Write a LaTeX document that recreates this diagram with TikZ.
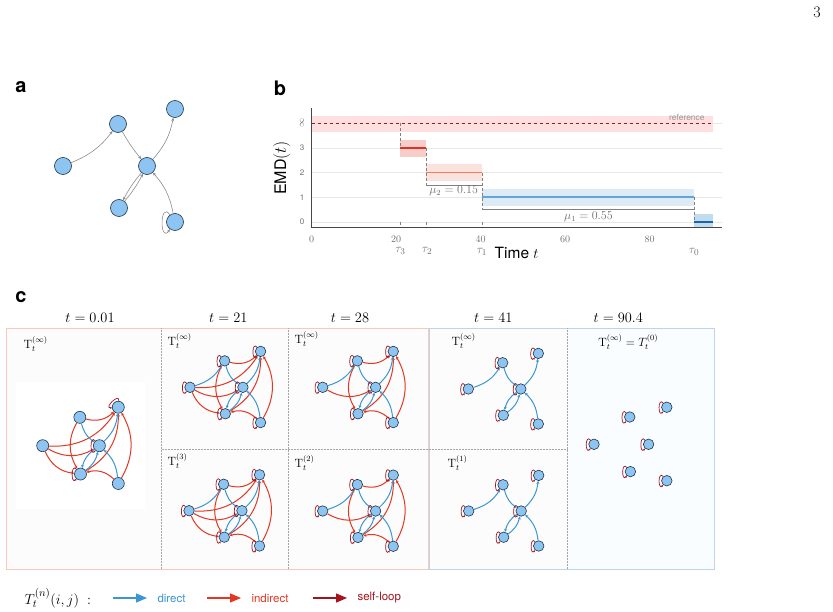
\documentclass[tikz,border=0pt]{standalone}
\usepackage{fontspec}
\setsansfont{TeX Gyre Heros}
\usetikzlibrary{arrows.meta}

\definecolor{nodefill}{RGB}{142,196,242}
\definecolor{nodeline}{RGB}{28,52,70}
\definecolor{directc}{RGB}{60,150,210}
\definecolor{indirectc}{RGB}{225,55,35}
\definecolor{loopc}{RGB}{165,20,30}
\definecolor{edgegray}{RGB}{140,140,140}
\definecolor{axisgray}{RGB}{70,70,70}
\definecolor{textgray}{RGB}{110,110,110}
\definecolor{refred}{RGB}{170,20,30}
\definecolor{lvlthree}{RGB}{222,50,40}
\definecolor{lvltwo}{RGB}{240,125,95}
\definecolor{lvlone}{RGB}{100,165,215}
\definecolor{lvlzero}{RGB}{30,100,170}
\definecolor{framered}{RGB}{248,200,190}
\definecolor{frameblue}{RGB}{195,210,235}

\tikzset{
  vertex/.style={circle,draw=nodeline,fill=nodefill,line width=0.6pt,inner sep=0pt,minimum size=#1},
  plain/.style={draw=edgegray,line width=0.6pt,-{Stealth[length=3.5pt,width=3pt]},bend right=#1},
  direct/.style={draw=directc,line width=1pt,-{Stealth[length=3pt,width=3pt]},bend right=20},
  indirect/.style={draw=indirectc,line width=1pt,-{Stealth[length=3pt,width=3pt]},bend right=30},
  selfloop/.style={draw=loopc,line width=0.7pt,-{Stealth[length=2pt,width=2pt]},out=130,in=230,looseness=1,min distance=13pt},
  celltitle/.style={font=\fontsize{14}{16}\selectfont},
  celllabel/.style={anchor=west,font=\fontsize{12}{14}\selectfont},
  sep/.style={draw=gray!70,densely dotted,line width=0.5pt},
  panel/.style={font=\fontsize{20}{22}\selectfont\sffamily\bfseries},
  gridline/.style={draw=gray!18,line width=0.6pt},
  axisline/.style={draw=axisgray,line width=0.8pt},
  stepline/.style={draw=gray,densely dashed,line width=0.5pt},
  bracket/.style={draw=gray,line width=0.5pt},
  ticklabel/.style={text=textgray,font=\fontsize{10}{12}\selectfont},
  legarrow/.style={line width=1.3pt,-{Triangle[length=11pt,width=9pt]}},
  legtext/.style={anchor=west,font=\fontsize{11.5}{13}\selectfont\sffamily},
}

% same six vertices in every network, #2 = name prefix
\newcommand{\netnodes}[2]{%
  \node[vertex=#1] (#2n0) at (0,0) {};
  \node[vertex=#1] (#2n1) at (55,42) {};
  \node[vertex=#1] (#2n2) at (112,57) {};
  \node[vertex=#1] (#2hub) at (84,0) {};
  \node[vertex=#1] (#2n3) at (56,-42) {};
  \node[vertex=#1] (#2n4) at (112,-56) {};
}
\newcommand{\firststep}[1]{\path (#1n0) edge[direct] (#1n1);}
\newcommand{\directedges}[1]{%
  \path (#1n1) edge[direct] (#1hub);
  \path (#1hub) edge[direct] (#1n2);
  \path (#1hub) edge[direct] (#1n3);
  \path (#1n3) edge[direct] (#1hub);
  \path (#1n4) edge[direct] (#1hub);
}
\newcommand{\shortwalks}[1]{%
  \path (#1n0) edge[indirect] (#1hub);
  \path (#1n1) edge[indirect] (#1n2);
  \path (#1n1) edge[indirect] (#1n3);
  \path (#1n3) edge[indirect] (#1n2);
  \path (#1n4) edge[indirect] (#1n2);
  \path (#1n4) edge[indirect] (#1n3);
}
\newcommand{\longwalks}[1]{%
  \path (#1n0) edge[indirect] (#1n2);
  \path (#1n0) edge[indirect] (#1n3);
}
\newcommand{\allloops}[1]{%
  \foreach \v in {n0,n1,n2,hub,n3,n4} {\path (#1\v) edge[selfloop] (#1\v);}
}

\begin{document}
\begin{tikzpicture}[x=1pt,y=1pt]
\useasboundingbox (0,0) rectangle (833,-612);

\node[font=\fontsize{16}{18}\selectfont] (pagenum) at (817,-12) {3};

% ---- a
\node[panel] (la) at (21,-87) {a};
\begin{scope}[shift={(63,-166)}]
    \netnodes{17pt}{a}
    \path (an0) edge[plain=15] (an1);
    \path (an1) edge[plain=5] (ahub);
    \path (ahub) edge[plain=15] (an2);
    \path (ahub) edge[plain=6] (an3);
    \path (an3) edge[plain=6] (ahub);
    \path (an4) edge[plain=15] (ahub);
    \path (an4) edge[draw=edgegray,line width=0.6pt,-{Stealth[length=3.5pt,width=3pt]},
                     out=125,in=235,min distance=18pt] (an4);
\end{scope}

% ---- b
\node[panel] (lb) at (280,-88) {b};
\begin{scope}[shift={(311.7,-222)},x=4.225pt,y=24.7pt]
    \foreach \v in {0,...,4} \draw[gridline] (0,\v) -- (97,\v);
    \fill[red!12] (0,3.66) rectangle (95,4.3);
    \fill[lvlthree!25] (21,2.65) rectangle (27.1,3.32);
    \fill[lvltwo!22] (27.1,1.67) rectangle (40.3,2.35);
    \fill[lvlone!22] (40.3,0.65) rectangle (90.5,1.35);
    \fill[lvlone!40] (90.5,-0.23) rectangle (95,0.32);
    \draw[stepline] (21,4) -- (21,3);
    \draw[stepline] (27.1,3) -- (27.1,1.49);
    \draw[stepline] (40.3,2) -- (40.3,0.5);
    \draw[stepline] (90.5,1) -- (90.5,0);
    \foreach \x in {21,27.1,40.3} \draw[stepline] (\x,0) -- (\x,-0.23);
    \draw[bracket] (27.1,1.49) -- (40.3,1.49);
    \draw[bracket] (40.3,0.5) -- (90.5,0.5);
    \draw[refred,dashed,line width=1.1pt] (0,4) -- (95,4);
    \draw[lvlthree,line width=1.6pt] (21,3) -- (27.1,3);
    \draw[lvltwo,line width=1.6pt] (27.1,2) -- (40.3,2);
    \draw[lvlone,line width=1.6pt] (40.3,1) -- (90.5,1);
    \draw[lvlzero,line width=1.6pt] (90.5,0) -- (95,0);
    \draw[axisline] (0,4.62) -- (0,-0.23) -- (97,-0.23);

    \foreach \x in {0,20,40,60,80} \node[ticklabel] (xt\x) at (\x,-0.68) {\x};
    \foreach \v in {0,1,2,3} \node[text=textgray,font=\fontsize{8}{9}\selectfont\sffamily] (yt\v) at (-2.3,\v) {\v};
    \node[text=textgray,rotate=90,font=\fontsize{9}{10}\selectfont] (ytinf) at (-2.3,4) {$\infty$};
    \node[text=gray!80,font=\fontsize{8.5}{10}\selectfont\sffamily] (reflabel) at (88.8,4.22) {reference};
    \node[text=textgray,font=\fontsize{11.5}{13}\selectfont] (mutwo) at (33.6,1.27) {$\mu_2 = 0.15$};
    \node[text=textgray,font=\fontsize{11.5}{13}\selectfont] (muone) at (65.5,0.21) {$\mu_1 = 0.55$};
    \node[ticklabel,font=\fontsize{13}{15}\selectfont] (tauthree) at (21,-1.18) {$\tau_3$};
    \node[ticklabel,font=\fontsize{13}{15}\selectfont] (tautwo) at (27.3,-1.18) {$\tau_2$};
    \node[ticklabel,font=\fontsize{13}{15}\selectfont] (tauone) at (40.3,-1.2) {$\tau_1$};
    \node[ticklabel,font=\fontsize{13}{15}\selectfont] (tauzero) at (90.5,-1.2) {$\tau_0$};
    \node[font=\fontsize{15.5}{17}\selectfont\sffamily] (xlabel) at (48.5,-1.27) {Time $t$};
    \node[rotate=90,font=\fontsize{16}{18}\selectfont\sffamily] (ylabel) at (-7.1,2.19) {EMD$(t)$};
\end{scope}

% ---- c
\node[panel] (lc) at (21,-297) {c};
\fill[gray!2] (6.7,-328.3) rectangle (567.3,-569.3);
\fill[white] (16,-381.7) rectangle (145,-509.3);
\fill[cyan!2] (567.3,-328.3) rectangle (714,-569.3);
\draw[framered,line width=0.8pt] (6.7,-328.3) rectangle (428.2,-569.3);
\draw[frameblue,line width=0.8pt] (429.5,-328.3) rectangle (714,-569.3);
\draw[sep] (161.7,-328.3) -- (161.7,-569.3);
\draw[sep] (288.3,-328.3) -- (288.3,-569.3);
\draw[sep] (567.3,-328.3) -- (567.3,-569.3);
\draw[sep] (161.7,-449.3) -- (567.3,-449.3);

\node[celltitle] (hd1) at (90,-318) {$t=0.01$};
\node[celltitle] (hd2) at (228.3,-318) {$t=21$};
\node[celltitle] (hd3) at (350,-318) {$t=28$};
\node[celltitle] (hd4) at (493.3,-318) {$t=41$};
\node[celltitle] (hd5) at (618.3,-318) {$t=90.4$};

\node[celllabel] (lbA) at (20,-344) {$\mathrm{T}_t^{(\infty)}$};
\node[celllabel] (lbB) at (164,-341) {$\mathrm{T}_t^{(\infty)}$};
\node[celllabel] (lbC) at (164,-461) {$\mathrm{T}_t^{(3)}$};
\node[celllabel] (lbD) at (291,-339) {$\mathrm{T}_t^{(\infty)}$};
\node[celllabel] (lbE) at (291,-463) {$\mathrm{T}_t^{(2)}$};
\node[celllabel] (lbF) at (448,-341) {$\mathrm{T}_t^{(\infty)}$};
\node[celllabel] (lbG) at (444,-463) {$\mathrm{T}_t^{(1)}$};
\node[font=\fontsize{12}{14}\selectfont] (lbH) at (628.3,-342) {$\mathrm{T}_t^{(\infty)} = T_t^{(0)}$};

% t = 0.01
\begin{scope}[shift={(42.7,-445.7)},scale=0.675]
    \netnodes{12pt}{ca}
    \shortwalks{ca}
    \longwalks{ca}
    \directedges{ca}
    \path (can2) edge[selfloop,out=85,in=185] (can2);
    \path (cahub) edge[selfloop] (cahub);
    \path (can3) edge[selfloop] (can3);
\end{scope}

% t = 21
\begin{scope}[shift={(190,-387.3)},scale=0.63]
    \netnodes{10.5pt}{cb}
    \shortwalks{cb}
    \longwalks{cb}
    \firststep{cb}
    \directedges{cb}
    \allloops{cb}
\end{scope}
\begin{scope}[shift={(189,-510.7)},scale=0.63]
    \netnodes{10.5pt}{cc}
    \shortwalks{cc}
    \longwalks{cc}
    \firststep{cc}
    \directedges{cc}
    \allloops{cc}
\end{scope}

% t = 28
\begin{scope}[shift={(322.7,-387.3)},scale=0.63]
    \netnodes{10.5pt}{cd}
    \shortwalks{cd}
    \firststep{cd}
    \directedges{cd}
    \allloops{cd}
\end{scope}
\begin{scope}[shift={(322.7,-511)},scale=0.63]
    \netnodes{10.5pt}{ce}
    \shortwalks{ce}
    \firststep{ce}
    \directedges{ce}
    \allloops{ce}
\end{scope}

% t = 41
\begin{scope}[shift={(468.3,-389)},scale=0.625]
    \netnodes{10.5pt}{cf}
    \firststep{cf}
    \directedges{cf}
    \allloops{cf}
\end{scope}
\begin{scope}[shift={(468.7,-511)},scale=0.625]
    \netnodes{10.5pt}{cg}
    \firststep{cg}
    \directedges{cg}
    \allloops{cg}
\end{scope}

% t = 90.4
\begin{scope}[shift={(594,-444.3)},scale=0.65]
    \netnodes{10.5pt}{ch}
    \allloops{ch}
\end{scope}

% legend
\node[anchor=west,font=\fontsize{15}{17}\selectfont] (lgkey) at (21,-598) {$T_t^{(n)}(i,j)\;:$};
\coordinate (lgd0) at (113,-598);
\coordinate (lgd1) at (147,-598);
\coordinate (lgi0) at (207,-598);
\coordinate (lgi1) at (241,-598);
\coordinate (lgs0) at (313,-598);
\coordinate (lgs1) at (347,-598);
\draw[legarrow,directc] (lgd0) -- (lgd1);
\draw[legarrow,indirectc] (lgi0) -- (lgi1);
\draw[legarrow,loopc] (lgs0) -- (lgs1);
\node[legtext,text=directc] (lgdirect) at (154,-598) {direct};
\node[legtext,text=indirectc] (lgindirect) at (248,-598) {indirect};
\node[legtext,text=loopc] (lgloop) at (354,-598) {self-loop};
\end{tikzpicture}
\end{document}
